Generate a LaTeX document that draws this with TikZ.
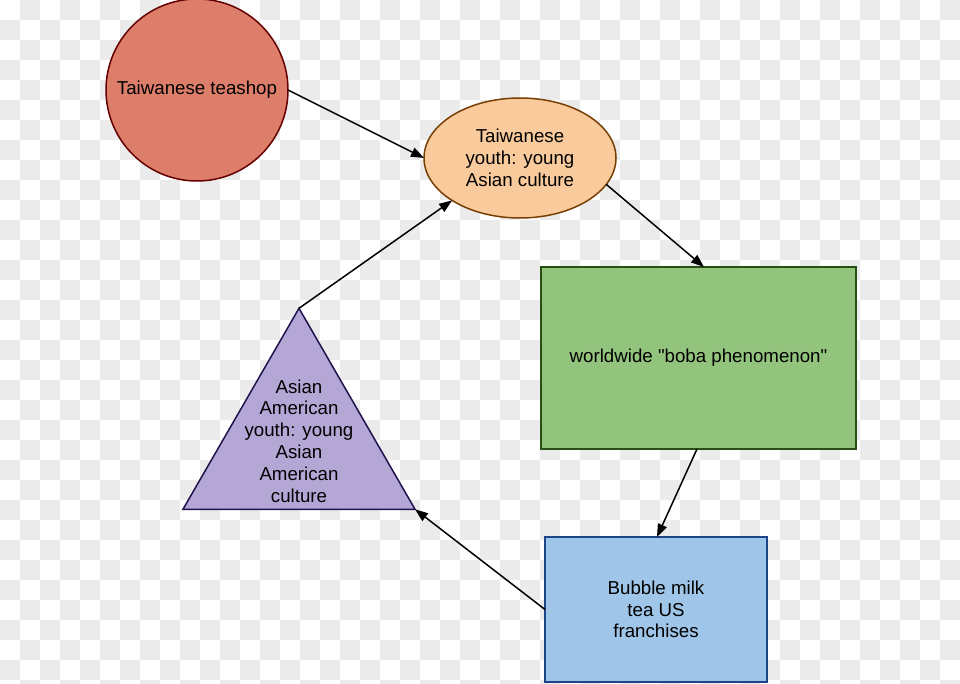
\documentclass[tikz,border=0pt]{standalone}
\usepackage{fontspec}
\setmainfont{Liberation Sans}
\usetikzlibrary{shapes.geometric,arrows.meta}
\definecolor{checkgray}{HTML}{EBEBEB}
\definecolor{redfill}{HTML}{DD7E6B}
\definecolor{reddraw}{HTML}{660000}
\definecolor{orangefill}{HTML}{F9CB9C}
\definecolor{orangedraw}{HTML}{783F04}
\definecolor{greenfill}{HTML}{93C47D}
\definecolor{greendraw}{HTML}{274E13}
\definecolor{bluefill}{HTML}{9FC5E8}
\definecolor{bluedraw}{HTML}{1C4587}
\definecolor{purplefill}{HTML}{B4A7D6}
\definecolor{purpledraw}{HTML}{20124D}
\tikzset{
  shapebox/.style={line width=1.5pt, outer sep=0pt, inner sep=0pt,
    font=\fontsize{18.7}{21.8}\selectfont, align=center, text=black},
  txt/.style={font=\fontsize{18.7}{21.8}\selectfont, align=center, text=black, inner sep=0pt},
  conn/.style={line width=1.5pt, black, -{Triangle[length=13pt,width=9.5pt]}}
}
\begin{document}
\begin{tikzpicture}[x=1pt,y=-1pt]
\useasboundingbox (0,0) rectangle (960,684);
\begin{scope}
\clip (0,0) rectangle (960,684);
\fill[white] (0,0) rectangle (960,684);
\foreach \rr in {0,...,34}{
  \foreach \cc in {0,...,47}{
    \pgfmathtruncatemacro{\pp}{mod(\rr+\cc,2)}
    \ifnum\pp=1
      \fill[checkgray] (20*\cc,20*\rr) rectangle ++(20,20);
    \fi
  }
}
\end{scope}

\node[shapebox, circle, minimum size=182pt, draw=reddraw, fill=redfill]
  (circ) at (197,90) {Taiwanese teashop};
\node[shapebox, ellipse, minimum width=192pt, minimum height=120pt, draw=orangedraw, fill=orangefill]
  (ell) at (520,158) {Taiwanese\\youth: young\\Asian culture};
\node[shapebox, rectangle, minimum width=315pt, minimum height=182pt, draw=greendraw, fill=greenfill]
  (green) at (698.5,358) {worldwide \textquotedbl boba phenomenon\textquotedbl};
\node[shapebox, rectangle, minimum width=222pt, minimum height=145pt, draw=bluedraw, fill=bluefill]
  (blue) at (656,609.5) {Bubble milk\\tea US\\franchises};
\node[shapebox, regular polygon, regular polygon sides=3, minimum size=268pt, draw=purpledraw, fill=purplefill]
  (tri) at (299,442.3) {};
\node[txt] (tritext) at (299,441) {Asian\\American\\youth: young\\Asian\\American\\culture};

\draw[conn] (circ.east) -- (ell.west);
\draw[conn] (ell.-17) -- ([xshift=5.5pt]green.north);
\draw[conn] ([xshift=-1.5pt]green.south) -- ([xshift=1pt]blue.north);
\draw[conn] (blue.west) -- (tri.corner 3);
\draw[conn] (tri.corner 1) -- (ell.212);
\end{tikzpicture}
\end{document}
